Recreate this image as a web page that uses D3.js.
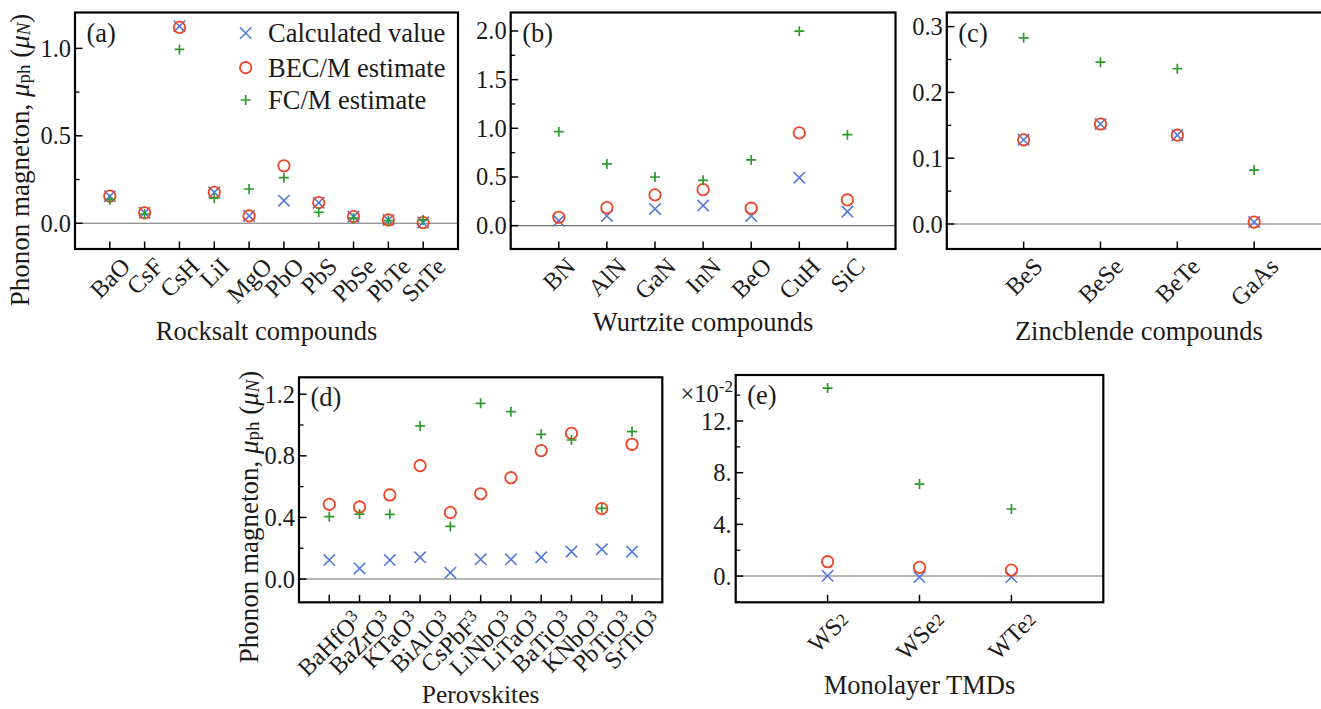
<!DOCTYPE html>
<html>
<head>
<meta charset="utf-8">
<script src="https://cdn.jsdelivr.net/npm/d3@7"></script>
<style>
  body { margin: 0; background: #fff; }
  svg text { font-family: "Liberation Serif", "DejaVu Serif", serif; fill: #1a1a1a; }
</style>
</head>
<body>
<svg id="chart" width="1321" height="709"></svg>
<script>
// ---- data ----
const rocksaltNames = ['BaO', 'CsF', 'CsH', 'LiI', 'MgO', 'PbO', 'PbS', 'PbSe', 'PbTe', 'SnTe'];
const rocksaltCalc = [0.155, 0.060, 1.127, 0.177, 0.042, 0.129, 0.118, 0.038, 0.019, 0.004];
const rocksaltBec = [0.155, 0.060, 1.120, 0.177, 0.042, 0.329, 0.118, 0.038, 0.019, 0.004];
const rocksaltFc = [0.135, 0.053, 0.994, 0.143, 0.196, 0.261, 0.063, 0.029, 0.015, 0.019];

const wurtziteNames = ['BN', 'AlN', 'GaN', 'InN', 'BeO', 'CuH', 'SiC'];
const wurtziteCalc = [0.050, 0.100, 0.172, 0.206, 0.100, 0.493, 0.144];
const wurtziteBec = [0.086, 0.185, 0.316, 0.370, 0.179, 0.953, 0.264];
const wurtziteFc = [0.966, 0.634, 0.500, 0.466, 0.675, 1.998, 0.935];

const zincNames = ['BeS', 'BeSe', 'BeTe', 'GaAs'];
const zincCalc = [0.128, 0.152, 0.135, 0.003];
const zincBec = [0.128, 0.152, 0.135, 0.003];
const zincFc = [0.283, 0.246, 0.236, 0.082];

const perovNames = ['BaHfO3', 'BaZrO3', 'KTaO3', 'BiAlO3', 'CsPbF3', 'LiNbO3', 'LiTaO3', 'BaTiO3', 'KNbO3', 'PbTiO3', 'SrTiO3'];
const perovCalc = [0.123, 0.069, 0.123, 0.141, 0.041, 0.128, 0.128, 0.141, 0.178, 0.193, 0.178];
const perovBec = [0.485, 0.468, 0.546, 0.736, 0.431, 0.554, 0.658, 0.834, 0.946, 0.457, 0.875];
const perovFc = [0.405, 0.422, 0.420, 0.994, 0.342, 1.141, 1.087, 0.940, 0.903, 0.459, 0.957];

// TMD values in units of 1e-2
const tmdNames = ['WS2', 'WSe2', 'WTe2'];
const tmdCalc = [0.02, -0.08, -0.08];
const tmdBec = [1.11, 0.67, 0.46];
const tmdFc = [14.55, 7.12, 5.19];

const ticksA = [0, 0.5, 1.0];
const ticksB = [0, 0.5, 1.0, 1.5, 2.0];
const ticksC = [0, 0.1, 0.2, 0.3];
const ticksD = [0, 0.4, 0.8, 1.2];
const ticksE = [0, 4, 8, 12];
const tickLabelsE = ['0.', '4.', '8.', '12.'];

const legendLabels = ['Calculated value', 'BEC/M estimate', 'FC/M estimate'];

// ---- style ----
const colCalc = '#5578dd';
const colBec = '#ee4424';
const colFc = '#2e9a2e';
const serif = '"Liberation Serif", "DejaVu Serif", serif';
const tickSize = 24.5;
const labelSize = 26.5;

const svg = d3.select('#chart');

const panels = [
  { tag: '(a)', names: rocksaltNames, calc: rocksaltCalc, bec: rocksaltBec, fc: rocksaltFc,
    box: [75, 12.5, 458, 249], xdom: [-1, 10], ydom: [-0.147, 1.205],
    ticks: ticksA, minor: 0.25, fmt: d3.format('.1f'), title: 'Rocksalt compounds', titleY: 340 },
  { tag: '(b)', names: wurtziteNames, calc: wurtziteCalc, bec: wurtziteBec, fc: wurtziteFc,
    box: [510.7, 12.5, 895.5, 249], xdom: [-1, 7], ydom: [-0.24, 2.19],
    ticks: ticksB, minor: 0.25, fmt: d3.format('.1f'), title: 'Wurtzite compounds', titleY: 331 },
  { tag: '(c)', names: zincNames, calc: zincCalc, bec: zincBec, fc: zincFc,
    box: [946.8, 12.5, 1331, 249], xdom: [-1, 4], ydom: [-0.038, 0.3215],
    ticks: ticksC, minor: 0.05, fmt: d3.format('.1f'), title: 'Zincblende compounds', titleY: 340 },
  { tag: '(d)', names: perovNames, calc: perovCalc, bec: perovBec, fc: perovFc, sub: true,
    box: [299, 377.3, 662.3, 602.3], xdom: [-1, 11], ydom: [-0.151, 1.31],
    ticks: ticksD, minor: 0.2, fmt: d3.format('.1f'), title: 'Perovskites', titleY: 703, titleSize: 25.5 },
  { tag: '(e)', names: tmdNames, calc: tmdCalc, bec: tmdBec, fc: tmdFc, sub: true,
    box: [735.7, 375, 1103.3, 602.3], xdom: [-1, 3], ydom: [-2.03, 15.56],
    ticks: ticksE, minor: 2, fmt: (d, i) => tickLabelsE[i], title: 'Monolayer TMDs', titleY: 694 }
];

function addText(g, size) {
  return g.append('text').attr('font-family', serif).attr('font-size', size);
}

function drawX(g, cx, cy) {
  const s = 5.7;
  g.append('path')
    .attr('d', `M${cx - s},${cy - s}L${cx + s},${cy + s}M${cx - s},${cy + s}L${cx + s},${cy - s}`)
    .attr('stroke', colCalc).attr('stroke-width', 1.6).attr('fill', 'none');
}
function drawO(g, cx, cy) {
  g.append('circle').attr('cx', cx).attr('cy', cy).attr('r', 5.7)
    .attr('stroke', colBec).attr('stroke-width', 1.8).attr('fill', 'none');
}
function drawPlus(g, cx, cy) {
  const s = 5;
  g.append('path')
    .attr('d', `M${cx - s},${cy}L${cx + s},${cy}M${cx},${cy - s}L${cx},${cy + s}`)
    .attr('stroke', colFc).attr('stroke-width', 1.7).attr('fill', 'none');
}

// split trailing digit into a small shifted tspan
function chemLabel(t, name, shift) {
  const m = name.match(/^(.*?)(\d)$/);
  if (!m) { t.text(name); return; }
  t.append('tspan').text(m[1]);
  t.append('tspan').text(m[2]).attr('font-size', tickSize * 0.72).attr('baseline-shift', shift);
}

panels.forEach(function(p, pi) {
  const [x0, y0, x1, y1] = p.box;
  const x = d3.scaleLinear().domain(p.xdom).range([x0, x1]);
  const y = d3.scaleLinear().domain(p.ydom).range([y1, y0]);
  const g = svg.append('g');

  // zero line
  g.append('line').attr('x1', x0).attr('x2', x1).attr('y1', y(0)).attr('y2', y(0))
    .attr('stroke', '#707070').attr('stroke-width', 1.1);

  // y ticks, pointing inward
  const minors = d3.range(Math.ceil(p.ydom[0] / p.minor), Math.floor(p.ydom[1] / p.minor) + 1)
    .map(k => k * p.minor)
    .filter(v => !p.ticks.some(t => Math.abs(t - v) < 1e-9));
  minors.forEach(function(v) {
    g.append('line').attr('x1', x0).attr('x2', x0 + 4.5).attr('y1', y(v)).attr('y2', y(v))
      .attr('stroke', '#000').attr('stroke-width', 1.3);
  });
  p.ticks.forEach(function(v, i) {
    g.append('line').attr('x1', x0).attr('x2', x0 + 7.5).attr('y1', y(v)).attr('y2', y(v))
      .attr('stroke', '#000').attr('stroke-width', 1.5);
    addText(g, tickSize).attr('x', x0 - 4).attr('y', y(v))
      .attr('text-anchor', 'end').attr('dominant-baseline', 'central')
      .text(p.fmt(v, i));
  });

  // x ticks and rotated category labels
  p.names.forEach(function(name, i) {
    g.append('line').attr('x1', x(i)).attr('x2', x(i)).attr('y1', y1).attr('y2', y1 - 7.5)
      .attr('stroke', '#000').attr('stroke-width', 1.5);
    const t = addText(g, tickSize).attr('text-anchor', 'middle').attr('dominant-baseline', 'central');
    if (p.sub) chemLabel(t, name, pi === 3 ? '25%' : '-10%');
    else t.text(name);
    const w = t.node().getComputedTextLength();
    const half = (w + tickSize * 0.8) / (2 * Math.SQRT2);
    t.attr('transform', `translate(${x(i)},${y1 + 6 + half}) rotate(-45)`);
  });

  // markers
  const mg = g.append('g');
  p.calc.forEach((v, i) => drawX(mg, x(i), y(v)));
  p.bec.forEach((v, i) => drawO(mg, x(i), y(v)));
  p.fc.forEach((v, i) => drawPlus(mg, x(i), y(v)));

  // frame
  g.append('rect').attr('x', x0).attr('y', y0).attr('width', x1 - x0).attr('height', y1 - y0)
    .attr('fill', 'none').attr('stroke', '#000').attr('stroke-width', 2.2);

  // panel tag
  addText(g, labelSize).attr('x', x0 + 11.5).attr('y', y0 + 20).attr('dominant-baseline', 'central')
    .text(p.tag);

  // x title
  addText(g, p.titleSize || labelSize).attr('x', (x0 + x1) / 2).attr('y', p.titleY)
    .attr('text-anchor', 'middle').text(p.title);
});

// y axis labels for (a) and (d)
function yLabel(cx, cy) {
  const fs = 27;
  const t = addText(svg, fs).attr('transform', `translate(${cx},${cy}) rotate(-90)`)
    .attr('text-anchor', 'middle').attr('dominant-baseline', 'central');
  t.append('tspan').text('Phonon magneton, ');
  t.append('tspan').attr('font-style', 'italic').text('\u03bc');
  t.append('tspan').attr('font-size', fs * 0.7).attr('baseline-shift', '-20%').text('ph');
  t.append('tspan').text(' (');
  t.append('tspan').attr('font-style', 'italic').text('\u03bc');
  t.append('tspan').attr('font-style', 'italic').attr('font-size', fs * 0.7).attr('baseline-shift', '-20%').text('N');
  t.append('tspan').text(')');
}
yLabel(20, 160);
yLabel(249, 517);

// legend inside (a)
const legY = [33, 67.7, 100];
const lg = svg.append('g');
drawX(lg, 245.7, legY[0]);
drawO(lg, 245.7, legY[1]);
drawPlus(lg, 245.7, legY[2]);
legendLabels.forEach(function(s, i) {
  addText(lg, labelSize).attr('x', 268).attr('y', legY[i]).attr('dominant-baseline', 'central').text(s);
});

// offset text for (e)
const off = addText(svg, tickSize).attr('x', 733).attr('y', 393).attr('text-anchor', 'end')
  .attr('dominant-baseline', 'central');
off.append('tspan').text('\u00d710');
off.append('tspan').attr('font-size', tickSize * 0.7).attr('baseline-shift', '40%').text('-2');
</script>
</body>
</html>
